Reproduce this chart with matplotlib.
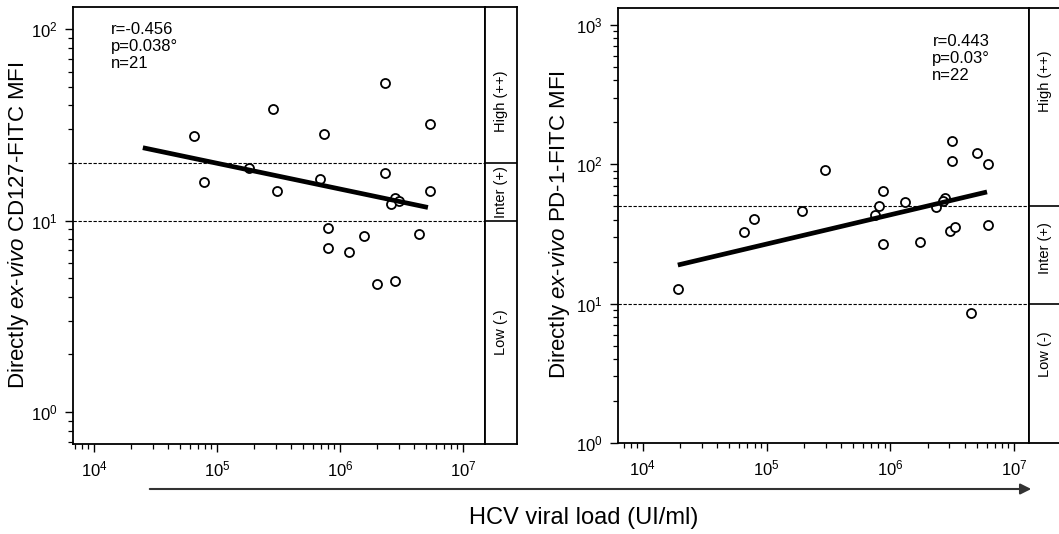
import matplotlib
matplotlib.use("Agg")
import matplotlib.pyplot as plt
from matplotlib.patches import FancyArrowPatch

plt.rcParams['font.family'] = ['Liberation Sans', 'DejaVu Sans']
plt.rcParams['mathtext.fontset'] = 'custom'
plt.rcParams['mathtext.rm'] = 'Liberation Sans'
plt.rcParams['mathtext.it'] = 'Liberation Sans:italic'
plt.rcParams['mathtext.bf'] = 'Liberation Sans:bold'

# CD127 panel (viral load, MFI)
cd127_load = [6.5e4, 7.8e4, 2.85e5, 1.82e5, 3.08e5, 7.41e5, 6.88e5, 7.98e5, 7.98e5, 1.18e6,
              1.57e6, 2.32e6, 2.32e6, 2.80e6, 2.60e6, 3.02e6, 5.40e6, 5.40e6, 4.38e6, 2.0e6, 2.80e6]
cd127_mfi = [27.5, 15.9, 38.2, 18.8, 14.2, 28.2, 16.5, 9.1, 7.2, 6.85,
             8.3, 52.5, 17.7, 13.1, 12.2, 12.6, 31.8, 14.2, 8.5, 4.68, 4.85]
cd127_fit_x = [2.5e4, 5.2e6]
cd127_fit_y = [24.0, 11.7]
cd127_cuts = [10, 20]
cd127_stats = "r=-0.456\np=0.038°\nn=21"

# PD-1 panel
pd1_load = [6.56e4, 7.89e4, 1.93e5, 2.96e5, 7.51e5, 8.09e5, 8.71e5, 8.71e5, 1.31e6, 1.73e6, 2.34e6,
            2.76e6, 2.66e6, 3.03e6, 3.33e6, 3.15e6, 3.15e6, 5.01e6, 6.15e6, 6.15e6, 1.92e4, 4.49e6]
pd1_mfi = [32.4, 40.7, 46.4, 90.6, 43.5, 50.4, 64.4, 26.7, 53.7, 27.5, 49.5,
           57.4, 54.7, 33.0, 35.2, 145.6, 105, 119.7, 100, 36.9, 12.8, 8.5]
pd1_fit_x = [1.92e4, 6.04e6]
pd1_fit_y = [18.9, 63.2]
pd1_cuts = [10, 50]
pd1_stats = "r=0.443\np=0.03°\nn=22"

levels = ["Low (-)", "Inter (+)", "High (++)"]

W, H = 1059, 534
fig = plt.figure(figsize=(W / 100, H / 100), dpi=100)


def px(x0, y0, x1, y1):
    return [x0 / W, 1 - y1 / H, (x1 - x0) / W, (y1 - y0) / H]


def panel(rect, box_rect, load, mfi, fit_x, fit_y, cuts, stats, stats_xy,
          xlim, ylim, level_y, ylabel, ylabel_x):
    ax = fig.add_axes(rect)
    ax.set_xscale('log')
    ax.set_yscale('log')
    ax.set_xlim(xlim)
    ax.set_ylim(ylim)
    ax.plot(load, mfi, 'o', mfc='white', mec='black', ms=6.5, mew=1.3, zorder=3)
    ax.plot(fit_x, fit_y, color='black', lw=3.4, solid_capstyle='butt', zorder=4)
    for c in cuts:
        ax.axhline(c, color='black', lw=0.8, ls=(0, (3, 1.5)), zorder=1)
    ax.text(stats_xy[0], stats_xy[1], stats, transform=ax.transAxes, fontsize=12,
            va='top', ha='left', linespacing=1.15)
    for s in ax.spines.values():
        s.set_linewidth(1.3)
    ax.tick_params(which='major', length=6, width=1, labelsize=12, pad=5)
    ax.tick_params(which='minor', length=3.5, width=0.9)
    fig.text(ylabel_x / W, 1 - 225 / H, ylabel, rotation=90, ha='center', va='center',
             fontsize=16)

    bx = fig.add_axes(box_rect)
    bx.set_yscale('log')
    bx.set_ylim(ylim)
    bx.set_xlim(0, 1)
    bx.set_xticks([])
    bx.set_yticks([])
    bx.minorticks_off()
    for s in bx.spines.values():
        s.set_linewidth(1.3)
    for c in cuts:
        bx.axhline(c, color='black', lw=1.2)
    for lab, yv in zip(levels, level_y):
        bx.text(0.5, yv, lab, rotation=90, ha='center', va='center', fontsize=10.5)
    return ax


panel(px(73, 7, 485, 444), px(485, 7, 517, 444), cd127_load, cd127_mfi, cd127_fit_x, cd127_fit_y,
      cd127_cuts, cd127_stats, (0.093, 0.965), (10 ** 3.83, 10 ** 7.18), (10 ** -0.167, 10 ** 2.115),
      [2.6, 14.1, 42], r"Directly $ex$-$vivo$ CD127-FITC MFI", 19)

panel(px(618, 8, 1029, 443), px(1029, 8, 1061, 443), pd1_load, pd1_mfi, pd1_fit_x, pd1_fit_y,
      pd1_cuts, pd1_stats, (0.765, 0.94), (10 ** 3.80, 10 ** 7.12), (1, 10 ** 3.12),
      [4.3, 25, 395], r"Directly $ex$-$vivo$ PD-1-FITC MFI", 560)

arrow_y = 1 - 489 / H
fig.add_artist(FancyArrowPatch(
    (147 / W, arrow_y), (1034 / W, arrow_y), transform=fig.transFigure,
    arrowstyle='-|>', mutation_scale=16, color='#333333', lw=1.5))
fig.text(584 / W, 1 - 518 / H, "HCV viral load (UI/ml)", ha='center', va='center', fontsize=17)

fig.savefig('out.png', dpi=100)
